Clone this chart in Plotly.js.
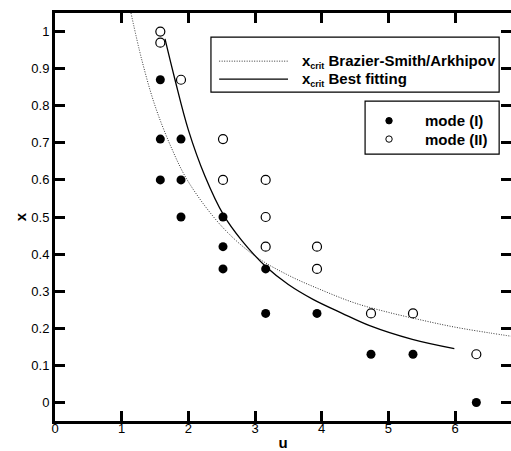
<!DOCTYPE html>
<html>
<head>
<meta charset="utf-8">
<script src="https://cdn.plot.ly/plotly-3.0.1.min.js"></script>
<style>
  html, body { margin: 0; padding: 0; overflow: hidden; background: #fff; }
  #chart { width: 511px; height: 451px; }
</style>
</head>
<body>
<div id="chart"></div>
<script>
// Measured break-up modes
const uModeI  = [1.58, 1.58, 1.58, 1.89, 1.89, 1.89, 2.52, 2.52, 2.52, 3.16, 3.16, 3.93, 4.74, 5.37, 6.32];
const xModeI  = [0.87, 0.71, 0.60, 0.71, 0.60, 0.50, 0.50, 0.42, 0.36, 0.36, 0.24, 0.24, 0.13, 0.13, 0.00];
const uModeII = [1.58, 1.58, 1.89, 2.52, 2.52, 3.16, 3.16, 3.16, 3.93, 3.93, 4.74, 5.37, 6.32];
const xModeII = [1.00, 0.97, 0.87, 0.71, 0.60, 0.60, 0.50, 0.42, 0.42, 0.36, 0.24, 0.24, 0.13];

// Critical curve, Brazier-Smith/Arkhipov
const uBrazier = [1.14, 1.30, 1.50, 1.75, 2.00, 2.50, 3.00, 3.50, 4.00, 4.50, 5.00, 5.50, 6.00, 6.50, 6.90];
const xBrazier = [1.05, 0.925, 0.80, 0.685, 0.595, 0.475, 0.395, 0.343, 0.303, 0.268, 0.243, 0.222, 0.203, 0.188, 0.177];

// Critical curve, best fitting
const uBest = [1.65, 1.80, 2.00, 2.25, 2.53, 2.80, 3.17, 3.50, 3.87, 4.30, 4.72, 5.36, 5.99];
const xBest = [0.98, 0.87, 0.735, 0.61, 0.505, 0.437, 0.365, 0.318, 0.278, 0.241, 0.207, 0.17, 0.145];

const SUB = '<sub><span style="font-size:9px">crit</span></sub>';
const legendLines = ['x' + SUB + ' Brazier-Smith/Arkhipov', 'x' + SUB + ' Best fitting'];
const legendModes = ['mode (I)', 'mode (II)'];

const FONT = 'Liberation Sans, Arial, sans-serif';
const DOTTED = '1px,1.5px';

const traces = [
  { x: uBrazier, y: xBrazier, mode: 'lines', line: { color: '#333', width: 1, dash: DOTTED, shape: 'spline' }, hoverinfo: 'skip' },
  { x: uBest, y: xBest, mode: 'lines', line: { color: '#000', width: 1.3, shape: 'spline' }, hoverinfo: 'skip' },
  { x: uModeI, y: xModeI, mode: 'markers', marker: { symbol: 'circle', size: 9, color: '#000' } },
  { x: uModeII, y: xModeII, mode: 'markers', marker: { symbol: 'circle-open', size: 9, color: '#000', line: { width: 1.2 } } }
];

// legend boxes, sample lines and symbols, placed in plot-area paper coordinates
const shapes = [
  { type: 'rect', xref: 'paper', yref: 'paper', x0: 0.342, x1: 0.974, y0: 0.806, y1: 0.941, line: { color: '#000', width: 1.2 }, fillcolor: '#fff' },
  { type: 'line', xref: 'paper', yref: 'paper', x0: 0.360, x1: 0.511, y0: 0.882, y1: 0.882, line: { color: '#333', width: 1, dash: DOTTED } },
  { type: 'line', xref: 'paper', yref: 'paper', x0: 0.360, x1: 0.511, y0: 0.838, y1: 0.838, line: { color: '#000', width: 1.3 } },
  { type: 'rect', xref: 'paper', yref: 'paper', x0: 0.680, x1: 0.974, y0: 0.654, y1: 0.784, line: { color: '#000', width: 1.2 }, fillcolor: '#fff' },
  { type: 'circle', xref: 'paper', yref: 'paper', xsizemode: 'pixel', ysizemode: 'pixel', xanchor: 0.7325, yanchor: 0.736, x0: -3.2, x1: 3.2, y0: -3.2, y1: 3.2, fillcolor: '#000', line: { color: '#000', width: 1 } },
  { type: 'circle', xref: 'paper', yref: 'paper', xsizemode: 'pixel', ysizemode: 'pixel', xanchor: 0.7325, yanchor: 0.691, x0: -3.2, x1: 3.2, y0: -3.2, y1: 3.2, fillcolor: '#fff', line: { color: '#000', width: 1 } }
];

const legendFont = { family: FONT, size: 15, color: '#000' };
const annotations = [
  { xref: 'paper', yref: 'paper', x: 0.537, y: 0.882, xanchor: 'left', yanchor: 'middle', text: '<b>' + legendLines[0] + '</b>', showarrow: false, font: legendFont },
  { xref: 'paper', yref: 'paper', x: 0.537, y: 0.838, xanchor: 'left', yanchor: 'middle', text: '<b>' + legendLines[1] + '</b>', showarrow: false, font: legendFont },
  { xref: 'paper', yref: 'paper', x: 0.807, y: 0.736, xanchor: 'left', yanchor: 'middle', text: '<b>' + legendModes[0] + '</b>', showarrow: false, font: legendFont },
  { xref: 'paper', yref: 'paper', x: 0.807, y: 0.691, xanchor: 'left', yanchor: 'middle', text: '<b>' + legendModes[1] + '</b>', showarrow: false, font: legendFont }
];

const titleFont = { family: FONT, size: 15, color: '#000' };

const layout = {
  width: 511, height: 451,
  margin: { l: 55, r: 0, t: 13, b: 30 },
  font: { family: FONT, size: 13, color: '#000' },
  showlegend: false,
  xaxis: {
    range: [0, 6.84], dtick: 1,
    showgrid: false, zeroline: false,
    showline: true, linecolor: '#000', linewidth: 3, mirror: 'ticks',
    ticks: 'inside', ticklen: 10, tickwidth: 2.5, tickcolor: '#000',
    ticklabelstandoff: -7,
    title: { text: '<b>u</b>', font: titleFont, standoff: 10 }
  },
  yaxis: {
    range: [-0.05, 1.05], dtick: 0.1,
    showgrid: false, zeroline: false,
    showline: true, linecolor: '#000', linewidth: 3, mirror: 'ticks',
    ticks: 'inside', ticklen: 10, tickwidth: 2.5, tickcolor: '#000',
    title: { text: '<b>x</b>', font: titleFont, standoff: 2 }
  },
  shapes: shapes,
  annotations: annotations
};

Plotly.newPlot('chart', traces, layout, { displayModeBar: false });
</script>
</body>
</html>
